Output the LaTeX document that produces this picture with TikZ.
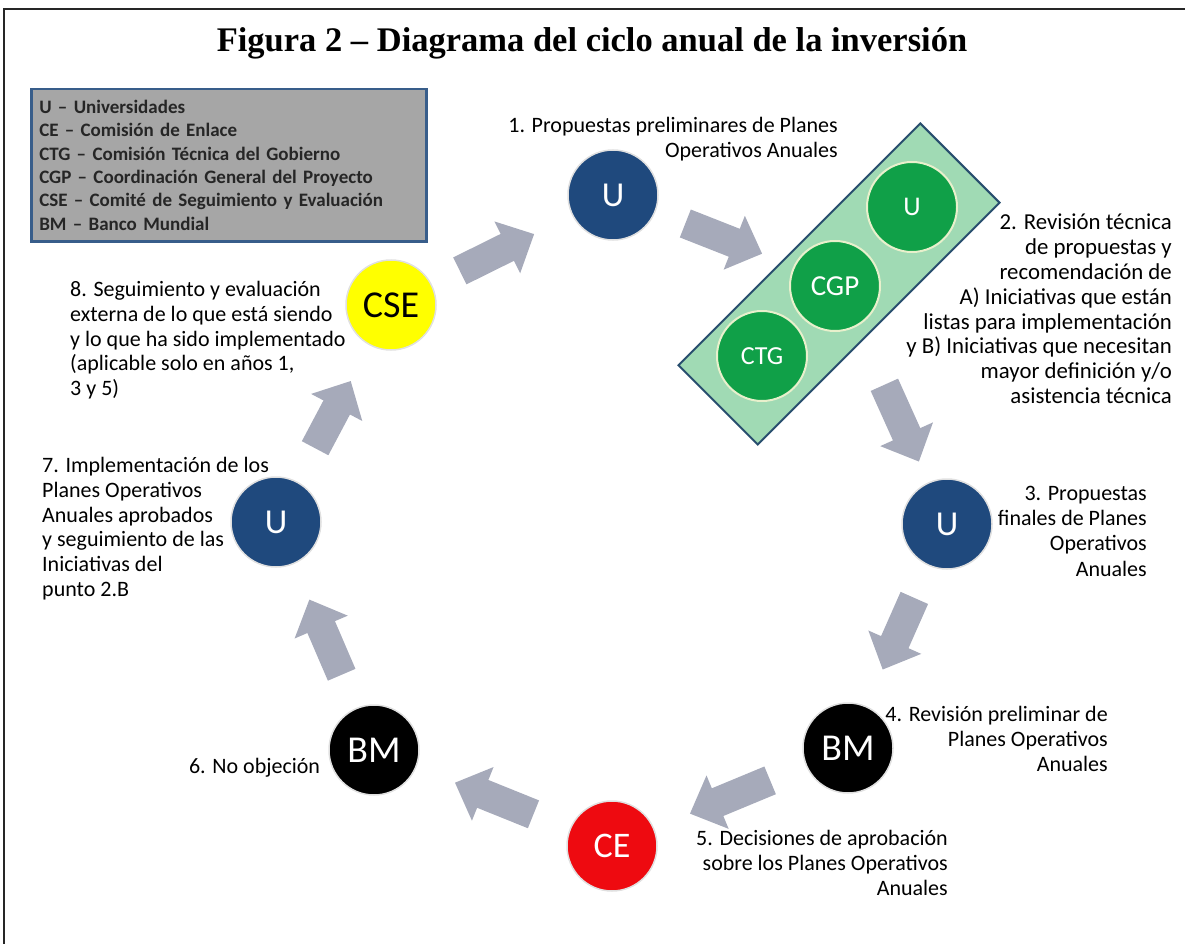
\documentclass[tikz,border=0pt]{standalone}
\usepackage{fontspec}
\setmainfont{Carlito}
\newfontfamily\titlefont{Liberation Serif}
\usetikzlibrary{positioning,calc,arrows.meta}

\definecolor{ublue}{RGB}{31,73,125}
\definecolor{cseyellow}{RGB}{255,255,0}
\definecolor{cered}{RGB}{238,10,16}
\definecolor{rectgreen}{RGB}{160,218,180}
\definecolor{rectedge}{RGB}{40,78,110}
\definecolor{cgreen}{RGB}{16,160,72}
\definecolor{cedge}{RGB}{232,240,204}
\definecolor{arrowgray}{RGB}{166,170,186}
\definecolor{leggray}{RGB}{166,166,166}
\definecolor{legblue}{RGB}{56,93,138}

\begin{document}
\begin{tikzpicture}[x=1pt, y=-1pt,
    circ/.style = {circle, minimum size=90pt, inner sep=0pt, draw=white!88!black, line width=1.5pt, text=white, font=\fontsize{35}{35}\selectfont},
    gcirc/.style = {circle, minimum size=90pt, inner sep=0pt, draw=cedge, line width=2pt, fill=cgreen, text=white, font=\fontsize{29}{29}\selectfont},
    lbl/.style = {inner sep=0pt, font=\fontsize{22}{24.8}\selectfont},
    blockarrow/.style = {draw=arrowgray, line width=30pt, -{Triangle[length=30pt, width=56pt]}}]
\useasboundingbox (0,0) rectangle (1185,944);
\draw[line width=2pt, black!85] (4,944) -- (4,9) -- (1185,9);

\node[font=\titlefont\bfseries\fontsize{34.5}{34.5}\selectfont] (title) at (592,43) {Figura 2 – Diagrama del ciclo anual de la inversión};

% leyenda
\node[draw=legblue, line width=2.5pt, fill=leggray, anchor=north west, text width=379pt, minimum height=152pt, inner xsep=8pt, align=left, text=black!85, font=\bfseries\fontsize{19}{23.3}\selectfont] (leg) at (30,88)
  {U – Universidades\\CE – Comisión de Enlace\\CTG – Comisión Técnica del Gobierno\\CGP – Coordinación General del Proyecto\\CSE – Comité de Seguimiento y Evaluación\\BM – Banco Mundial};

% ciclo
\node[circ, fill=ublue] (U1) at (613,195) {U};
\node[draw=rectedge, line width=2pt, fill=rectgreen, rotate=45, minimum width=342pt, minimum height=112pt] (rev) at (839,284) {};
\node[gcirc, font=\fontsize{27}{27}\selectfont] (gU) at (912,207) {U};
\node[gcirc] (gCGP) at (835,286) {CGP};
\node[gcirc, font=\fontsize{26}{26}\selectfont] (gCTG) at (762,356) {CTG};
\node[circ, fill=ublue] (U3) at (947,524) {U};
\node[circ, fill=black, font=\fontsize{38}{38}\selectfont] (BM4) at (848,748) {BM};
\node[circ, fill=cered, font=\fontsize{36}{36}\selectfont] (CE) at (612,846) {CE};
\node[circ, fill=black, font=\fontsize{38}{38}\selectfont] (BM6) at (374,750) {BM};
\node[circ, fill=ublue] (U7) at (276,522) {U};
\node[circ, fill=cseyellow, text=black, font=\fontsize{38}{38}\selectfont] (CSE) at (391,305) {CSE};

\draw[blockarrow] ($(CSE)!.31!(U1)$) -- ($(CSE)!.645!(U1)$);
\draw[blockarrow] ($(U1)!.32!(rev)$) -- ($(U1)!.66!(rev)$);
\draw[blockarrow] ($(rev)!.42!(U3)$) -- ($(rev)!.74!(U3)$);
\draw[blockarrow] ($(U3)!.33!(BM4)$) -- ($(U3)!.65!(BM4)$);
\draw[blockarrow] ($(BM4)!.33!(CE)$) -- ($(BM4)!.67!(CE)$);
\draw[blockarrow] ($(CE)!.33!(BM6)$) -- ($(CE)!.66!(BM6)$);
\draw[blockarrow] ($(BM6)!.33!(U7)$) -- ($(BM6)!.66!(U7)$);
\draw[blockarrow] ($(U7)!.34!(CSE)$) -- ($(U7)!.65!(CSE)$);

% textos
\node[lbl, align=right, anchor=north east] (l1) at (838,117) {1. Propuestas preliminares de Planes\\Operativos Anuales};
\node[lbl, align=right, anchor=north east, font=\fontsize{22.8}{24.8}\selectfont] (l2) at (1172,214) {2. Revisión técnica\\de propuestas y\\recomendación de\\A) Iniciativas que están\\listas para implementación\\y B) Iniciativas que necesitan\\mayor definición y/o\\asistencia técnica};
\node[lbl, align=right, anchor=north east, font=\fontsize{22}{25.2}\selectfont] (l3) at (1147,486) {3. Propuestas\\finales de Planes\\Operativos\\Anuales};
\node[lbl, align=right, anchor=north east] (l4) at (1108,706) {4. Revisión preliminar de\\Planes Operativos\\Anuales};
\node[lbl, align=right, anchor=north east] (l5) at (948,830) {5. Decisiones de aprobación\\sobre los Planes Operativos\\Anuales};
\node[lbl, left=8pt of BM6, yshift=-18pt] (l6) {6. No objeción};
\node[lbl, align=left, anchor=north west] (l7) at (42,457) {7. Implementación de los\\Planes Operativos\\Anuales aprobados\\y seguimiento de las\\Iniciativas del\\punto 2.B};
\node[lbl, align=left, anchor=north west] (l8) at (70,281) {8. Seguimiento y evaluación\\externa de lo que está siendo\\y lo que ha sido implementado\\(aplicable solo en años 1,\\3 y 5)};
\end{tikzpicture}
\end{document}
